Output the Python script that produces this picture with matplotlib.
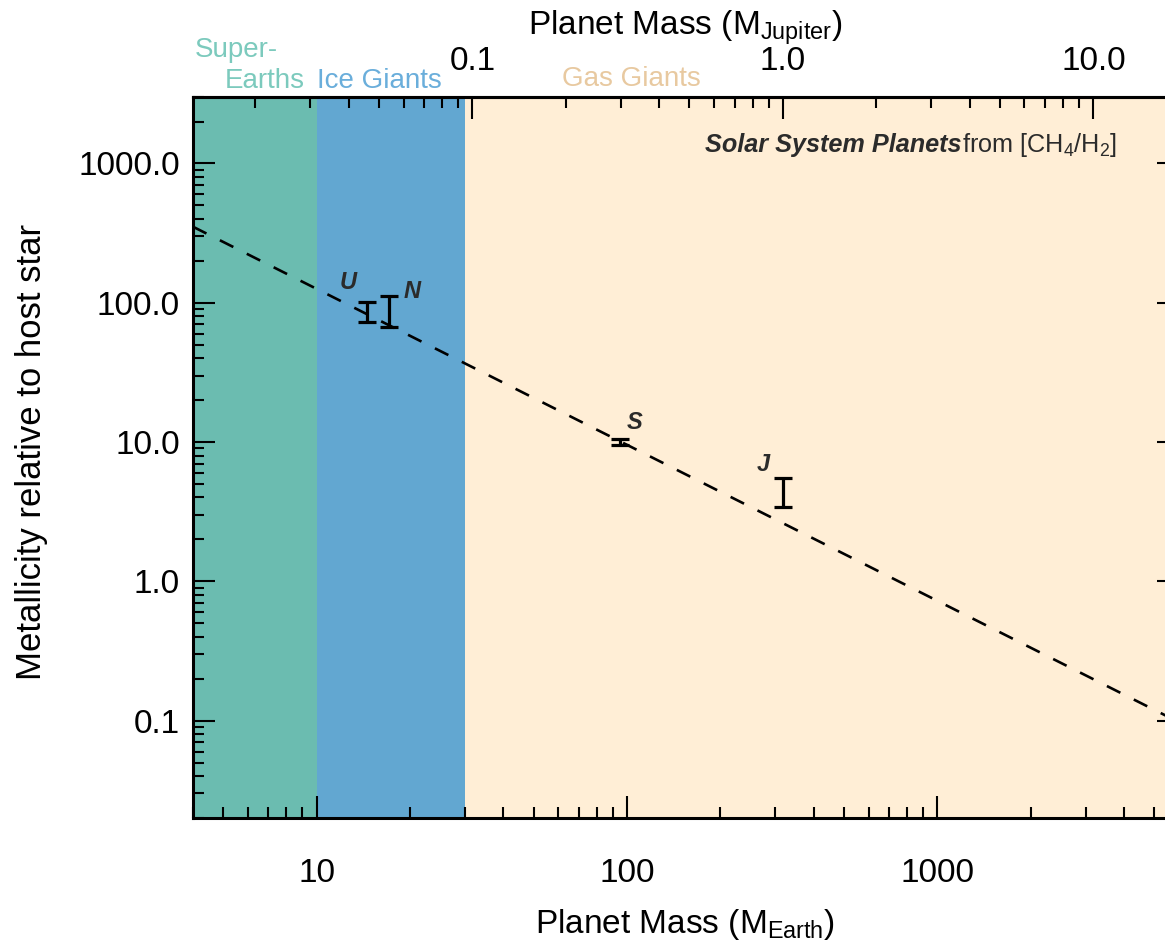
import numpy as np
import matplotlib
matplotlib.use("Agg")
import matplotlib.pyplot as plt
from matplotlib.ticker import NullFormatter

# --- Fonts ---
plt.rcParams['font.family'] = ['Liberation Sans', 'DejaVu Sans']
plt.rcParams['mathtext.fontset'] = 'custom'
plt.rcParams['mathtext.rm'] = 'Liberation Sans'
plt.rcParams['mathtext.it'] = 'Liberation Sans:italic'
plt.rcParams['mathtext.bf'] = 'Liberation Sans:bold'

# --- Solar system planets (mass in Earth masses, metallicity from CH4/H2) ---
planet_names = ['U', 'N', 'S', 'J']
planet_mass = [14.5, 17.1, 95.2, 317.8]
planet_metal = [87.0, 89.0, 10.0, 4.5]
metal_err_lo = [14.0, 22.0, 0.5, 1.1]
metal_err_hi = [15.0, 23.0, 0.5, 1.0]
# label offsets in points from the top of each error bar
label_dx = [-13, 17, 10, -14]
label_dy = [14, 3, 12, 10]

# --- Power-law fit: log10(Z) = fit_a + fit_b * log10(M) ---
fit_a = 3.22
fit_b = -1.12

# --- Mass regimes ---
regime_edges = [4.0, 10.0, 30.0, 6000.0]
regime_colors = ['#6bbcb0', '#62a7d1', '#ffeed6']
regime_text_colors = ['#7ccabd', '#6aaedb', '#e8c9a0']

earth_per_jupiter = 317.8
xlim = (4.0, 6000.0)
ylim = (0.02, 3000.0)

x_ticks = [10, 100, 1000]
x_ticklabels = ['10', '100', '1000']
y_ticks = [0.1, 1, 10, 100, 1000]
y_ticklabels = ['0.1', '1.0', '10.0', '100.0', '1000.0']
top_ticks = [0.1, 1, 10]
top_ticklabels = ['0.1', '1.0', '10.0']

W, H = 1165, 946
fig = plt.figure(figsize=(W / 100, H / 100), dpi=100)
ax = fig.add_axes([193 / W, 1 - 818 / H, 986 / W, 721 / H])
ax.set_xscale('log')
ax.set_yscale('log')
ax.set_xlim(*xlim)
ax.set_ylim(*ylim)

for i in range(3):
    ax.axvspan(regime_edges[i], regime_edges[i + 1], color=regime_colors[i], lw=0, zorder=0)

# fit line
xf = np.array(xlim)
yf = 10 ** (fit_a + fit_b * np.log10(xf))
ax.plot(xf, yf, color='black', lw=1.9, dashes=(5.7, 5.7), zorder=2)

# planets
ax.errorbar(planet_mass, planet_metal, yerr=[metal_err_lo, metal_err_hi], fmt='none',
            ecolor='black', elinewidth=2.3, capsize=6.8, capthick=2.3, zorder=3)
for name, m, z, hi, dx, dy in zip(planet_names, planet_mass, planet_metal, metal_err_hi,
                                  label_dx, label_dy):
    ax.annotate(name, xy=(m, z + hi), xytext=(dx, dy), textcoords='offset points',
                ha='center', va='center', fontsize=17, fontweight='bold', style='italic',
                color='#2b2b2b')

# --- Axes styling ---
for sp in ax.spines.values():
    sp.set_linewidth(2.2)

ax.set_xticks(x_ticks, labels=x_ticklabels)
ax.set_yticks(y_ticks, labels=y_ticklabels)
ax.xaxis.set_minor_formatter(NullFormatter())
ax.yaxis.set_minor_formatter(NullFormatter())
ax.tick_params(which='both', direction='in', top=False, right=True, width=1.5,
               labelsize=24)
ax.tick_params(which='major', length=16)
ax.tick_params(which='minor', length=8)
ax.tick_params(axis='x', pad=29)
ax.tick_params(axis='y', pad=9.4)

secax = ax.secondary_xaxis('top', functions=(lambda m: m / earth_per_jupiter,
                                             lambda j: j * earth_per_jupiter))
secax.set_xticks(top_ticks, labels=top_ticklabels)
secax.xaxis.set_minor_formatter(NullFormatter())
secax.tick_params(which='both', direction='in', width=1.5, labelsize=24, pad=14.4)
secax.tick_params(which='major', length=16)
secax.tick_params(which='minor', length=8)
secax.spines['top'].set_linewidth(2.2)

# --- Labels ---
fig.text(685 / W, 1 - 933 / H, r'Planet Mass (M$_{\rm Earth}$)', ha='center',
         va='baseline', fontsize=24)
fig.text(685 / W, 1 - 35 / H, r'Planet Mass (M$_{\rm Jupiter}$)', ha='center',
         va='baseline', fontsize=24)
fig.text(32 / W, 1 - 452 / H, 'Metallicity relative to host star', rotation=90,
         ha='center', va='center', fontsize=25)

fig.text(195 / W, 1 - 57 / H, 'Super-', color=regime_text_colors[0], fontsize=20,
         va='baseline')
fig.text(225 / W, 1 - 88 / H, 'Earths', color=regime_text_colors[0], fontsize=20,
         va='baseline')
fig.text(317 / W, 1 - 88 / H, 'Ice Giants', color=regime_text_colors[1], fontsize=20,
         va='baseline')
fig.text(562 / W, 1 - 86 / H, 'Gas Giants', color=regime_text_colors[2], fontsize=20,
         va='baseline')

t2 = ax.text(0.937, 0.9237, r'from [CH$_4$/H$_2$]', transform=ax.transAxes,
             ha='right', va='baseline', fontsize=18.2, color='#2b2b2b')
ax.annotate('Solar System Planets', xy=(0, 0.9237), xycoords=(t2, 'axes fraction'),
            ha='right', va='baseline', fontsize=18.2, fontweight='bold', style='italic',
            color='#2b2b2b')

fig.savefig('out.png', dpi=100)
